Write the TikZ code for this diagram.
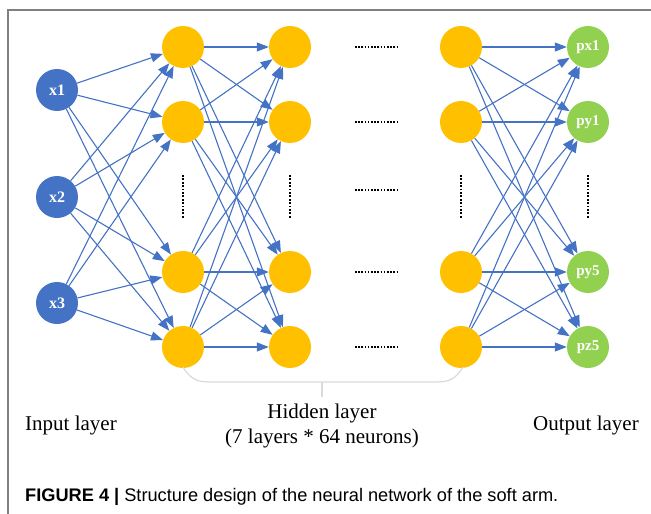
\documentclass[tikz,border=0pt]{standalone}
\usepackage{fontspec}
\setmainfont{Liberation Serif}
\newfontfamily\capfont{Liberation Sans}
\usetikzlibrary{arrows.meta}
\definecolor{nblue}{HTML}{4472C4}
\definecolor{nyellow}{HTML}{FFC000}
\definecolor{ngreen}{HTML}{92D050}
\definecolor{brgray}{HTML}{DADADA}
\begin{document}
\begin{tikzpicture}[x=1pt,y=-1pt,
  neuron/.style={circle,minimum size=42pt,inner sep=0pt,draw=none},
  inp/.style={neuron,fill=nblue,text=white,font=\fontsize{16}{16}\selectfont\bfseries},
  hid/.style={neuron,fill=nyellow},
  outp/.style={neuron,fill=ngreen,text=white,font=\fontsize{15}{15}\selectfont\bfseries},
  edge/.style={draw=nblue,line width=1.1pt,-{Triangle[length=12pt,width=9pt]}},
  hdots/.style={line width=1.6pt,dash pattern=on 1.6pt off 1.6pt},
  vdots/.style={line width=1.8pt,dash pattern=on 1.8pt off 1.6pt},
  lbl/.style={font=\fontsize{21}{25}\selectfont,inner sep=0pt}]
\useasboundingbox (0,0) rectangle (651,514);
\draw[color=gray,line width=2pt] (8,514) -- (8,10) -- (651,10);
% input
\node[inp] (x1) at (57,90) {x1};
\node[inp] (x2) at (57,197) {x2};
\node[inp] (x3) at (57,303) {x3};
% hidden layers
\foreach \i/\y in {1/47,2/122,3/272,4/347}{
  \node[hid] (a\i) at (183,\y) {};
  \node[hid] (b\i) at (290,\y) {};
  \node[hid] (c\i) at (461,\y) {};
}
% output
\node[outp] (o1) at (588,47) {px1};
\node[outp] (o2) at (588,122) {py1};
\node[outp] (o3) at (588,272) {py5};
\node[outp] (o4) at (588,347) {pz5};
% edges
\foreach \s in {x1,x2,x3}{\foreach \t in {1,2,3,4}{\draw[edge] (\s) -- (a\t);}}
\foreach \s in {1,2,3,4}{\foreach \t in {1,2,3,4}{\draw[edge] (a\s) -- (b\t);}}
\foreach \s in {1,2,3,4}{\foreach \t in {1,2,3,4}{\draw[edge] (c\s) -- (o\t);}}
% dots
\foreach \y in {47,122,190,272,347}{\draw[hdots] (355,\y) -- (398,\y);}
\foreach \x in {183,290,461,588}{\draw[vdots] (\x,175) -- (\x,218);}
% brace
\draw[brgray,line width=1.2pt] (183,367) .. controls (192,382) and (200,382) .. (215,382) -- (431,382) .. controls (446,382) and (454,382) .. (463,367);
\draw[brgray,line width=1.2pt] (322,382) -- (322,397);
% labels
\node[lbl] (li) at (71,425) {Input layer};
\node[lbl] (lh) at (322,413) {Hidden layer};
\node[lbl] (lh2) at (322,438) {(7 layers * 64 neurons)};
\node[lbl] (lo) at (586,425) {Output layer};
\node[font=\capfont\fontsize{18.2}{21}\selectfont,anchor=west,inner sep=0pt] (cap) at (25,497) {\textbf{FIGURE 4 |} Structure design of the neural network of the soft arm.};
\end{tikzpicture}
\end{document}
